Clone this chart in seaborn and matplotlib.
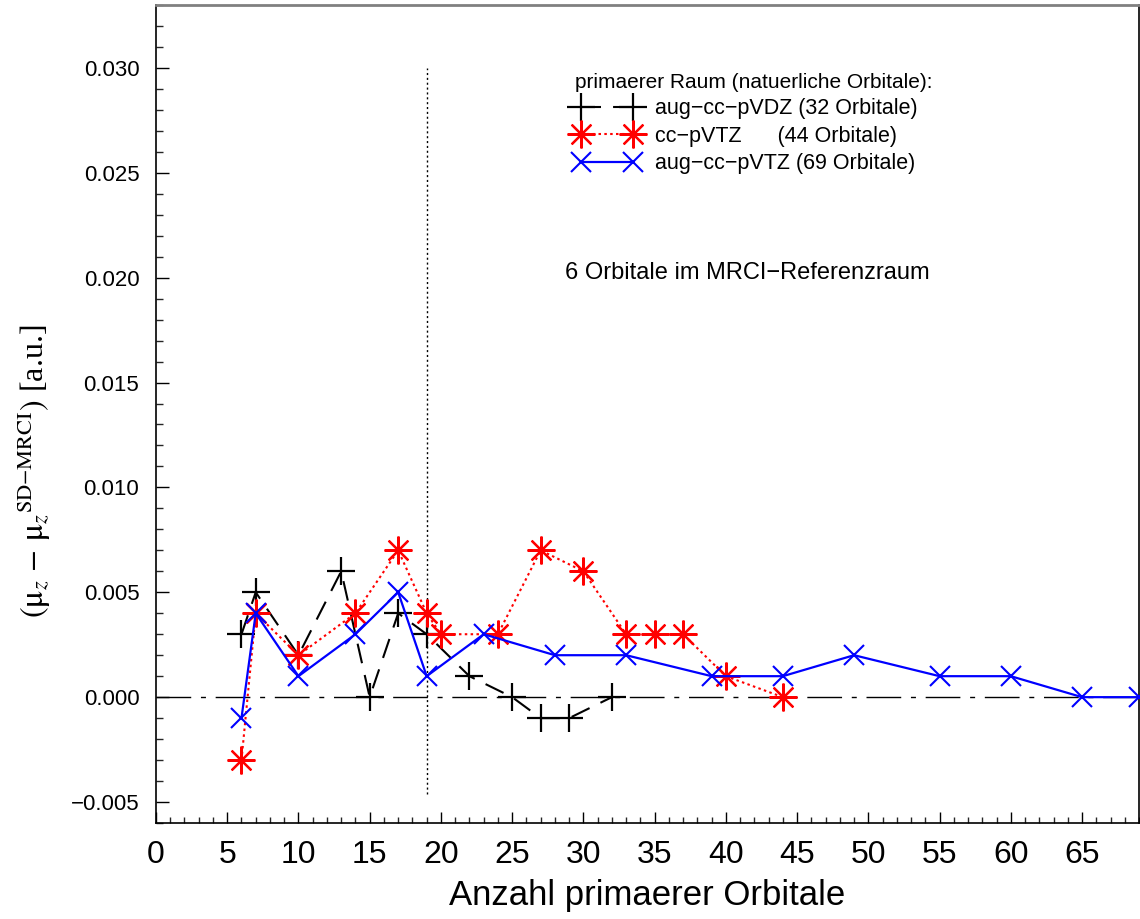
import matplotlib
matplotlib.use("Agg")
import matplotlib.pyplot as plt
import seaborn as sns
import numpy as np
import pandas as pd
from matplotlib.ticker import MultipleLocator, FixedLocator, FuncFormatter

# --- data: deviation of mu_z from SD-MRCI reference vs. number of primary orbitals ---
vdz_x = [6, 7, 10, 13, 15, 17, 19, 22, 25, 27, 29, 32]
vdz_y = [0.003, 0.005, 0.002, 0.006, 0.000, 0.004, 0.003, 0.001, 0.000, -0.001, -0.001, 0.000]

vtz_x = [6, 7, 10, 14, 17, 19, 20, 24, 27, 30, 33, 35, 37, 40, 44]
vtz_y = [-0.003, 0.004, 0.002, 0.004, 0.007, 0.004, 0.003, 0.003, 0.007, 0.006,
         0.003, 0.003, 0.003, 0.001, 0.000]

avtz_x = [6, 7, 10, 14, 17, 19, 23, 28, 33, 39, 44, 49, 55, 60, 65, 69]
avtz_y = [-0.001, 0.004, 0.001, 0.003, 0.005, 0.001, 0.003, 0.002, 0.002, 0.001,
          0.001, 0.002, 0.001, 0.001, 0.000, 0.000]

labels = ["aug\u2212cc\u2212pVDZ (32 Orbitale)",
          "cc\u2212pVTZ      (44 Orbitale)",
          "aug\u2212cc\u2212pVTZ (69 Orbitale)"]
legend_title = "primaerer Raum (natuerliche Orbitale):"
note_text = "6 Orbitale im MRCI\u2212Referenzraum"

x_ticks = list(range(0, 70, 5))
y_ticks = [-0.005, 0.000, 0.005, 0.010, 0.015, 0.020, 0.025, 0.030]
ref_space_x = 19

sns.set_theme(style="white")
plt.rcParams["font.family"] = ["Liberation Sans", "DejaVu Sans"]
plt.rcParams["mathtext.fontset"] = "stix"
plt.rcParams["text.color"] = "black"
plt.rcParams["axes.labelcolor"] = "black"

fig = plt.figure(figsize=(11.40, 9.19), dpi=100)
ax = fig.add_axes([156 / 1140, 1 - 823 / 919, (1139 - 156) / 1140, (823 - 5) / 919])

# zero reference line and the boundary of the reference space
ax.axhline(0.0, color="black", lw=1.0, dashes=(25, 7, 3.6, 7), zorder=1)
ax.vlines(ref_space_x, -0.0046, 0.030, colors="black", lw=1.0,
          linestyles=(0, (1.5, 2.0)), zorder=1)

asterisk = (8, 2, 0)
df_vdz = pd.DataFrame({"n": vdz_x, "d": vdz_y})
df_vtz = pd.DataFrame({"n": vtz_x, "d": vtz_y})
df_avtz = pd.DataFrame({"n": avtz_x, "d": avtz_y})

sns.lineplot(data=df_vdz, x="n", y="d", ax=ax, color="black", lw=1.5,
             marker="+", markersize=20, markeredgewidth=1.6,
             markeredgecolor="black", errorbar=None, label=labels[0], zorder=3)
ax.lines[-1].set_dashes((9.6, 5.8))
sns.lineplot(data=df_vtz, x="n", y="d", ax=ax, color="#ff0000", lw=1.5,
             marker=asterisk, markersize=20, markeredgewidth=1.6,
             markeredgecolor="#ff0000", errorbar=None, label=labels[1], zorder=4)
ax.lines[-1].set_linestyle((0, (1.2, 1.6)))
sns.lineplot(data=df_avtz, x="n", y="d", ax=ax, color="#0000ff", lw=1.6,
             marker="x", markersize=15, markeredgewidth=1.5,
             markeredgecolor="#0000ff", errorbar=None, label=labels[2], zorder=5)

ax.set_xlim(0, 69)
ax.set_ylim(-0.006, 0.033)

ax.xaxis.set_major_locator(FixedLocator(x_ticks))
ax.xaxis.set_minor_locator(MultipleLocator(1))
ax.yaxis.set_major_locator(FixedLocator(y_ticks))
ax.yaxis.set_minor_locator(MultipleLocator(0.001))
ax.yaxis.set_major_formatter(FuncFormatter(lambda v, p: f"{v:.3f}".replace("-", "\u2212")))

ax.tick_params(axis="x", which="major", direction="in", length=8, width=1,
               labelsize=23, pad=12, colors="black", bottom=True, top=False)
ax.tick_params(axis="x", which="minor", direction="in", length=4, width=1,
               bottom=True, top=False)
ax.tick_params(axis="y", which="major", direction="in", length=9, width=1,
               labelsize=16, pad=12, colors="black", left=True, right=False)
ax.tick_params(axis="y", which="minor", direction="in", length=5, width=1,
               left=True, right=False)

for side in ["left", "bottom", "right"]:
    ax.spines[side].set_color("black")
    ax.spines[side].set_linewidth(1.2)
ax.spines["top"].set_color("#808080")
ax.spines["top"].set_linewidth(2.0)

ax.set_xlabel("Anzahl primaerer Orbitale", fontsize=25, color="black")
ax.xaxis.set_label_coords(0.5, -0.068)
ax.set_ylabel(r"$(\mathrm{\mu}_z\,-\,\mathrm{\mu}_z{}^{\mathrm{SD{-}MRCI}})$ [a.u.]",
              fontsize=23, color="black", family=["Liberation Serif", "DejaVu Serif"])
ax.yaxis.set_label_coords(-0.105, 0.43)

leg = ax.legend(title=legend_title, loc="upper left",
                bbox_to_anchor=(575 / 1140, 1 - 73 / 919),
                bbox_transform=fig.transFigure, frameon=False, numpoints=2,
                fontsize=15.5, title_fontsize=15, handlelength=3.0,
                handletextpad=0.7, labelspacing=0.3, borderpad=0,
                borderaxespad=0, alignment="left")
for t in leg.get_texts():
    t.set_color("black")
leg.get_title().set_color("black")

ax.text(28.7, 0.0202, note_text, fontsize=17, ha="left", va="center", color="black")

fig.savefig("out.png", dpi=100)
